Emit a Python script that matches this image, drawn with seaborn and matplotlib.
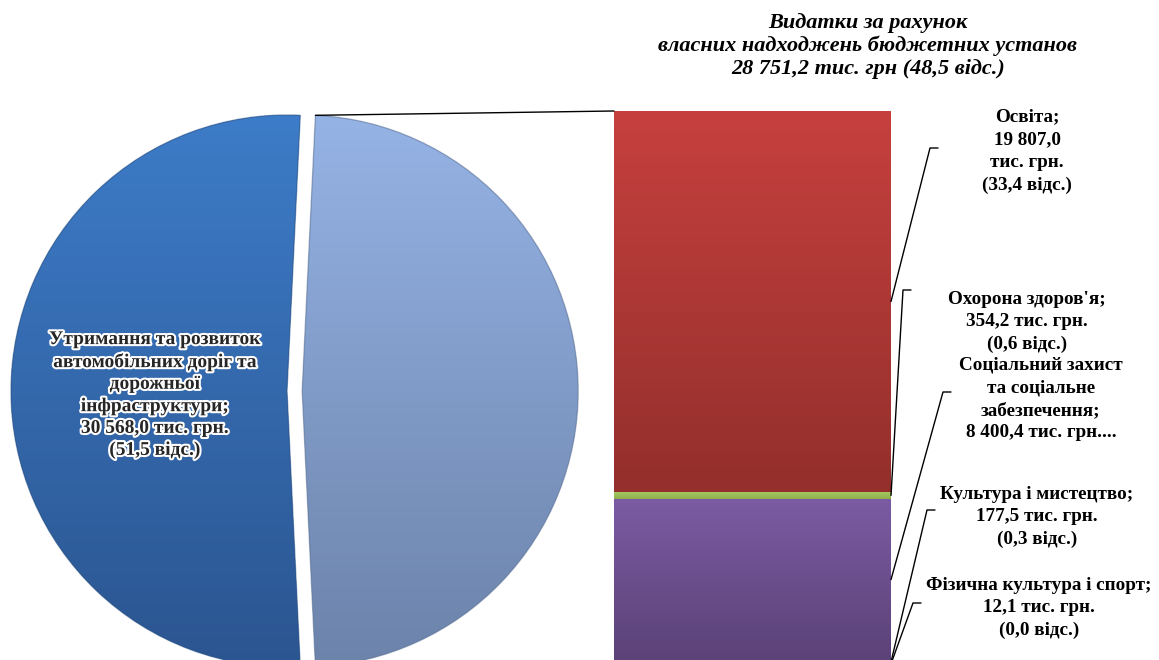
import numpy as np
import matplotlib
matplotlib.use("Agg")
import matplotlib.pyplot as plt
import seaborn as sns
import pandas as pd
from matplotlib.lines import Line2D
from matplotlib.colors import to_rgb
from matplotlib.patches import PathPatch
import matplotlib.patheffects as pe

# ---------------- data ----------------
pie_names = ["Видатки за рахунок власних надходжень бюджетних установ",
             "Утримання та розвиток автомобільних доріг та дорожньої інфраструктури"]
pie_values = [28751.2, 30568.0]
pie_shares = [48.5, 51.5]

bar_names = ["Фізична культура і спорт", "Культура і мистецтво",
             "Соціальний захист та соціальне забезпечення",
             "Охорона здоров'я", "Освіта"]
bar_values = [12.1, 177.5, 8400.4, 354.2, 19807.0]
bar_shares = [0.0, 0.3, 14.2, 0.6, 33.4]

# ---------------- style ----------------
sns.set_theme(style="white")
plt.rcParams['font.family'] = ['Liberation Serif', 'DejaVu Serif']

W, H = 1159, 660
fig = plt.figure(figsize=(W / 100, H / 100), dpi=100)
fig.patch.set_facecolor("white")


def fmt(v):
    return f"{v:,.1f}".replace(",", " ").replace(".", ",")


def pf(x, y):
    """pixel (from top-left) -> figure fraction"""
    return x / W, 1 - y / H


def gradient(ax, patch, c_top, c_bot, extent):
    t = np.array(to_rgb(c_top))
    b = np.array(to_rgb(c_bot))
    f = np.linspace(0, 1, 256)[:, None]
    img = (t * (1 - f) + b * f)[:, None, :]
    im = ax.imshow(img, extent=extent, origin="upper", aspect="auto",
                   interpolation="bilinear", zorder=patch.get_zorder() + 0.1)
    im.set_clip_path(patch)
    return im


# ---------------- pie ----------------
cxp, cyp, rp = 287, 391, 276
axp = fig.add_axes([(cxp - 300) / W, (H - cyp - 300) / H, 600 / W, 600 / H])
light_frac = pie_values[0] / sum(pie_values)
start = -light_frac * 180
wedges, _ = axp.pie(pie_values, startangle=start, explode=[0.055, 0],
                    colors=["#8eaddf", "#3a77c2"],
                    wedgeprops=dict(linewidth=0))
axp.set_aspect("auto")
grad_cols = [("#95b3e5", "#6c83aa"), ("#3d7cc8", "#2b5590")]
outline_cols = ["#5f7293", "#2a4f80"]
for w, (ct, cb), oc in zip(wedges, grad_cols, outline_cols):
    cx, cy = w.center
    r = w.r
    gradient(axp, w, ct, cb, (cx - r, cx + r, cy - r, cy + r))
    axp.add_patch(PathPatch(w.get_path(), transform=w.get_transform(),
                            facecolor="none", edgecolor=oc, lw=1.0,
                            alpha=0.5, zorder=w.get_zorder() + 0.2))
lim = 300 / rp
axp.set_xlim(-lim, lim)
axp.set_ylim(-lim, lim)
axp.axis("off")

# ---------------- stacked bar ----------------
bx0, bx1, by0, by1 = 614, 891, 111, 664
axb = fig.add_axes([bx0 / W, (H - by1) / H, (bx1 - bx0) / W, (by1 - by0) / H])
bar_colors = ["#f79646", "#4bacc6", "#7a5aa2", "#9bbb59", "#c0403d"]
bar_grad = [("#f79646", "#d0782f"), ("#4bacc6", "#3a8ea5"),
            ("#7b5ba3", "#5b4277"), ("#a4c85e", "#8fae4e"),
            ("#c6403e", "#932f2c")]
bottoms = np.concatenate([[0], np.cumsum(bar_values)[:-1]])
group = ["Власні надходження"]
for v, b, c in zip(bar_values, bottoms, bar_colors):
    sns.barplot(x=group, y=[v], bottom=b, color=c, width=1.0, saturation=1,
                errorbar=None, ax=axb, linewidth=0.6, edgecolor="#555555")
total = float(np.sum(bar_values))
for p, (ct, cb) in zip(axb.patches, bar_grad):
    x0, y0 = p.get_x(), p.get_y()
    gradient(axb, p, ct, cb, (x0, x0 + p.get_width(), y0, y0 + p.get_height()))
axb.set_xlim(-0.5, 0.5)
axb.set_ylim(0, total)
axb.axis("off")

# ---------------- connector pie -> bar ----------------
light = wedges[0]
inv = fig.transFigure.inverted()
for ang, by in [(light.theta2, total), (light.theta1, 0)]:
    a = np.deg2rad(ang)
    px = light.center[0] + light.r * np.cos(a)
    py = light.center[1] + light.r * np.sin(a)
    p1 = inv.transform(axp.transData.transform((px, py)))
    p2 = inv.transform(axb.transData.transform((-0.5, by)))
    fig.add_artist(Line2D([p1[0], p2[0]], [p1[1], p2[1]], color="black",
                          lw=1.0, transform=fig.transFigure))

# ---------------- title ----------------
fig.text(*pf(868, 46),
         "Видатки за рахунок\nвласних надходжень бюджетних установ\n"
         f"{fmt(pie_values[0])} тис. грн ({fmt(pie_shares[0])} відс.)",
         ha="center", va="center", fontsize=16, fontweight="bold",
         fontstyle="italic", linespacing=1.2, color="black")

# ---------------- pie label ----------------
fig.text(*pf(155, 395),
         "Утримання та розвиток\nавтомобільних доріг та\nдорожньої\nінфраструктури;\n"
         f"{fmt(pie_values[1])} тис. грн.\n({fmt(pie_shares[1])} відс.)",
         ha="center", va="center", fontsize=14, fontweight="bold",
         linespacing=1.36, color="#262626",
         path_effects=[pe.withStroke(linewidth=3, foreground="white")])

# ---------------- bar labels ----------------
label_texts = [
    f"Фізична культура і спорт;\n{fmt(bar_values[0])} тис. грн.\n({fmt(bar_shares[0])} відс.)",
    f"Культура і мистецтво;\n{fmt(bar_values[1])} тис. грн.\n({fmt(bar_shares[1])} відс.)",
    f"Соціальний захист\nта соціальне\nзабезпечення;\n{fmt(bar_values[2])} тис. грн....",
    f"Охорона здоров'я;\n{fmt(bar_values[3])} тис. грн.\n({fmt(bar_shares[3])} відс.)",
    f"Освіта;\n{fmt(bar_values[4])}\nтис. грн.\n({fmt(bar_shares[4])} відс.)",
]
label_pos = [(1039, 608), (1037, 517), (1041, 399), (1027, 322), (1027, 151)]
tick_pos = [(913, 603), (927, 510), (943, 392), (903, 290), (930, 148)]
for txt, (lx, ly), (tx, ty), v, b in zip(label_texts, label_pos, tick_pos,
                                         bar_values, bottoms):
    fig.text(*pf(lx, ly), txt, ha="center", va="center", fontsize=13.8,
             fontweight="bold", linespacing=1.43, color="black")
    s = inv.transform(axb.transData.transform((0.5, b + v / 2)))
    t1 = pf(tx, ty)
    t2 = pf(tx + 8, ty)
    fig.add_artist(Line2D([s[0], t1[0], t2[0]], [s[1], t1[1], t2[1]],
                          color="black", lw=1.0, transform=fig.transFigure))

fig.savefig("out.png", dpi=100, facecolor="white")
